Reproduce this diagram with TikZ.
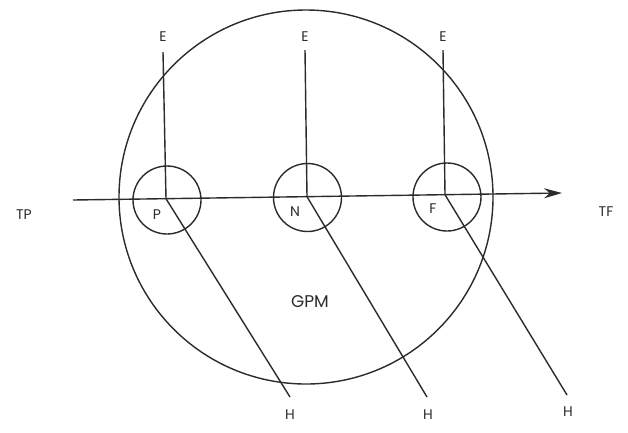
\documentclass[tikz,border=0pt]{standalone}
\usepackage{fontspec}
\setmainfont{Poppins}
\usetikzlibrary{arrows.meta}
\definecolor{ink}{HTML}{2B2B2B}
\tikzset{
  ln/.style={draw=ink, line width=1.4pt},
  lbl/.style={font=\fontsize{14}{14}\selectfont, text=ink, inner sep=0pt},
  big/.style={font=\fontsize{17}{17}\selectfont, text=ink, inner sep=0pt},
  ring/.style={circle, draw=ink, line width=1.4pt, minimum size=68pt, inner sep=0pt}
}
\begin{document}
\begin{tikzpicture}[x=1pt,y=-1pt]
\useasboundingbox (0,0) rectangle (628,432);
% big circle
\node[circle, draw=ink, line width=1.4pt, minimum size=374pt, inner sep=0pt] (gpmc) at (306,197) {};
\node[big] (gpm) at (310,302) {GPM};
% small circles
\node[ring] (p) at (167,200) {};
\node[ring] (n) at (307.5,197.5) {};
\node[ring] (f) at (447,197) {};
% junctions on the axis
\coordinate (jp) at (166,198.7);
\coordinate (jn) at (307,196.7);
\coordinate (jf) at (445,194.7);
% axis
\coordinate (a0) at (73,200);
\coordinate (a1) at (562,193);
\draw[ln, -{Stealth[length=18pt,width=10pt]}] (a0) -- (a1);
\node[lbl] (tp) at (24,215) {TP};
\node[lbl] (tf) at (606,212) {TF};
% labels in circles
\node[lbl] (lp) at (157,215) {P};
\node[lbl] (ln) at (295,212) {N};
\node[lbl] (lf) at (433,209) {F};
% E lines
\node[lbl] (e1) at (163,37) {E};
\node[lbl] (e2) at (305,37) {E};
\node[lbl] (e3) at (443,37) {E};
\coordinate (t1) at (163,52);
\coordinate (t2) at (305,50);
\coordinate (t3) at (443,50);
\draw[ln] (t1) -- (jp);
\draw[ln] (t2) -- (jn);
\draw[ln] (t3) -- (jf);
% H lines
\coordinate (b1) at (290,397);
\coordinate (b2) at (427,397);
\coordinate (b3) at (567,395);
\draw[ln] (jp) -- (b1);
\draw[ln] (jn) -- (b2);
\draw[ln] (jf) -- (b3);
\node[lbl] (h1) at (290,415) {H};
\node[lbl] (h2) at (428,415) {H};
\node[lbl] (h3) at (568,412) {H};
\end{tikzpicture}
\end{document}
